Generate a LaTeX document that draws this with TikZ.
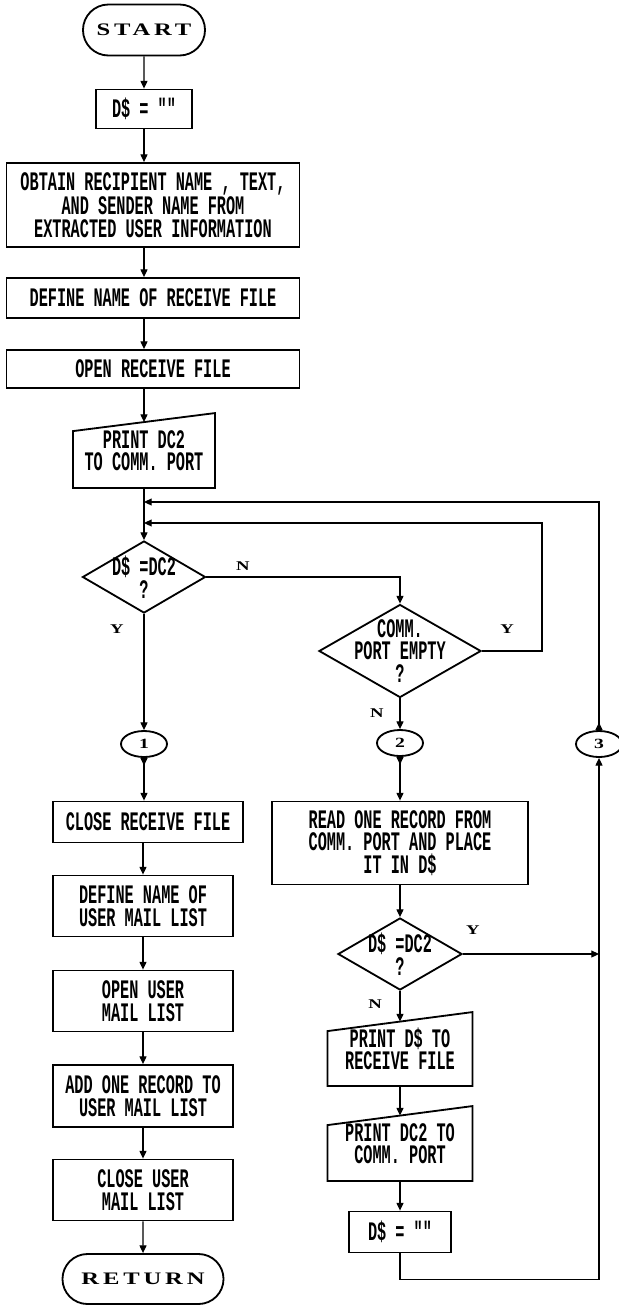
\documentclass[tikz,border=0pt]{standalone}
\usepackage{fontspec}
\newfontfamily\printfont[FakeStretch=0.57]{Liberation Mono}
\newfontfamily\widefont[FakeStretch=1.4,LetterSpace=22]{Liberation Serif}
\usetikzlibrary{shapes.geometric,shapes.misc,arrows.meta,calc}

\begin{document}
\begin{tikzpicture}[x=0.025cm,y=-0.025cm]
		\tikzstyle{box}=[draw=black, line width=1.3pt, shape=rectangle, align=center, inner sep=0pt, font=\printfont\bfseries\fontsize{19}{16}\selectfont];
		\tikzstyle{inbox}=[box, draw=none];
		\tikzstyle{term}=[draw=black, line width=1.3pt, shape=rounded rectangle, inner sep=0pt, font=\widefont\bfseries\fontsize{12.5}{14}\selectfont];
		\tikzstyle{decide}=[box, shape=diamond, inner sep=-12pt];
		\tikzstyle{conn}=[draw=black, line width=1.3pt, shape=ellipse, inner sep=0pt, minimum width=1.15cm, minimum height=0.65cm, font=\widefont\bfseries\fontsize{10}{11}\selectfont];
		\tikzstyle{lbl}=[font=\widefont\bfseries\fontsize{9.5}{10}\selectfont, inner sep=0pt];
		\tikzstyle{flow}=[line width=0.8pt, -{Triangle[length=5.5pt,width=5pt]}];
		\tikzstyle{flowout}=[line width=0.8pt, {Triangle[reversed,length=5.5pt,width=5pt]}-{Triangle[length=5.5pt,width=5pt]}];

		\useasboundingbox (0,0) rectangle (619,1305);

		% left column
		\node[term, minimum width=3.05cm, minimum height=1.275cm] (start) at (144,30) {START};
		\node[box, minimum width=2.4cm, minimum height=0.975cm] (dinit) at (144,109) {D\$ = ""};
		\node[box, minimum width=7.325cm, minimum height=2.1cm] (obtain) at (153,205) {OBTAIN RECIPIENT NAME , TEXT,\\AND SENDER NAME FROM\\EXTRACTED USER INFORMATION};
		\node[box, minimum width=7.325cm, minimum height=1cm] (defrecv) at (153,298) {DEFINE NAME OF RECEIVE FILE};
		\node[box, minimum width=7.325cm, minimum height=0.95cm] (openrecv) at (153,369) {OPEN RECEIVE FILE};
		\node[inbox, minimum width=3.5cm, minimum height=1.825cm] (printdc) at (144,450.5) {PRINT DC2\\TO COMM. PORT};
		\coordinate (j1) at (144,502);
		\coordinate (j2) at (144,523);
		\node[decide, minimum width=3.075cm, minimum height=1.8cm] (dec1) at (144,577) {D\$ =DC2\\?};
		\node[conn] (con1) at (144,744) {1};
		\node[box, minimum width=4.75cm, minimum height=1.025cm] (closerecv) at (148,822) {CLOSE RECEIVE FILE};
		\node[box, minimum width=4.5cm, minimum height=1.525cm] (defmail) at (143,906) {DEFINE NAME OF\\USER MAIL LIST};
		\node[box, minimum width=4.5cm, minimum height=1.525cm] (openmail) at (143,1001) {OPEN USER\\MAIL LIST};
		\node[box, minimum width=4.5cm, minimum height=1.55cm] (addrec) at (143,1096) {ADD ONE RECORD TO\\USER MAIL LIST};
		\node[box, minimum width=4.5cm, minimum height=1.525cm] (closemail) at (143,1190) {CLOSE USER\\MAIL LIST};
		\node[term, minimum width=4.025cm, minimum height=1.25cm] (return) at (143,1279) {RETURN};

		% right column
		\node[decide, minimum width=4.05cm, minimum height=2.325cm] (dec2) at (400,651) {COMM.\\PORT EMPTY\\?};
		\node[conn] (con2) at (400,743) {2};
		\node[conn] (con3) at (599,744) {3};
		\node[box, minimum width=6.4cm, minimum height=2.075cm] (readrec) at (400,843) {READ ONE RECORD FROM\\COMM. PORT AND PLACE\\IT IN D\$};
		\node[decide, minimum width=3.1cm, minimum height=1.8cm] (dec3) at (400,954) {D\$ =DC2\\?};
		\node[inbox, minimum width=3.575cm, minimum height=1.8cm] (printd) at (400,1049) {PRINT D\$ TO\\RECEIVE FILE};
		\node[inbox, minimum width=3.575cm, minimum height=1.825cm] (printdc2) at (400,1143.5) {PRINT DC2 TO\\COMM. PORT};
		\node[box, minimum width=2.55cm, minimum height=1.025cm] (dclear) at (400,1232) {D\$ = ""};

		% manual input outlines
		\foreach \n/\s in {printdc/18, printd/19, printdc2/19} {
			\draw[line width=1.3pt] ($(\n.north west)+(0,\s)$) -- (\n.north east) -- (\n.south east) -- (\n.south west) -- cycle;
			\coordinate (\n-in) at ($(\n.north)+(0,\s/2)$);
		}

		\node[lbl] (n1) at (243,566) {N};
		\node[lbl] (y1) at (117,629) {Y};
		\node[lbl] (y2) at (507,629) {Y};
		\node[lbl] (n2) at (377,713) {N};
		\node[lbl] (y3) at (473,930) {Y};
		\node[lbl] (n3) at (375,1004) {N};

		\draw[flow] (start) to (dinit) ;
		\draw[flow] (dinit) to (dinit |- obtain.north) ;
		\draw[flow] (dinit |- obtain.south) to (dinit |- defrecv.north) ;
		\draw[flow] (dinit |- defrecv.south) to (dinit |- openrecv.north) ;
		\draw[flow] (dinit |- openrecv.south) to (printdc-in) ;
		\draw[flow] (printdc) to (dec1) ;
		\draw[flowout] (con3) |- (j1) ;
		\draw[flow] (dec2.east) -- ++(60,0) |- (j2) ;
		\draw[flow] (dec1.east) -| (dec2.north) ;
		\draw[flow] (dec1) to (con1) ;
		\draw[flow] (dec2) to (con2) ;
		\draw[flowout] (con1) to (con1 |- closerecv.north) ;
		\draw[flowout] (con2) to (readrec) ;
		\draw[flow] (closerecv.south -| defmail) to (defmail) ;
		\draw[flow] (defmail) to (openmail) ;
		\draw[flow] (openmail) to (addrec) ;
		\draw[flow] (addrec) to (closemail) ;
		\draw[flow] (closemail) to (return) ;
		\draw[flow] (readrec) to (dec3) ;
		\draw[flow] (dec3) to (con3 |- dec3) ;
		\draw[flow] (dec3) to (printd-in) ;
		\draw[flow] (printd) to (printdc2-in) ;
		\draw[flow] (printdc2) to (dclear) ;
		\draw[flow] (dclear.south) -- ++(0,26) -| (con3) ;
        \end{tikzpicture}
\end{document}
